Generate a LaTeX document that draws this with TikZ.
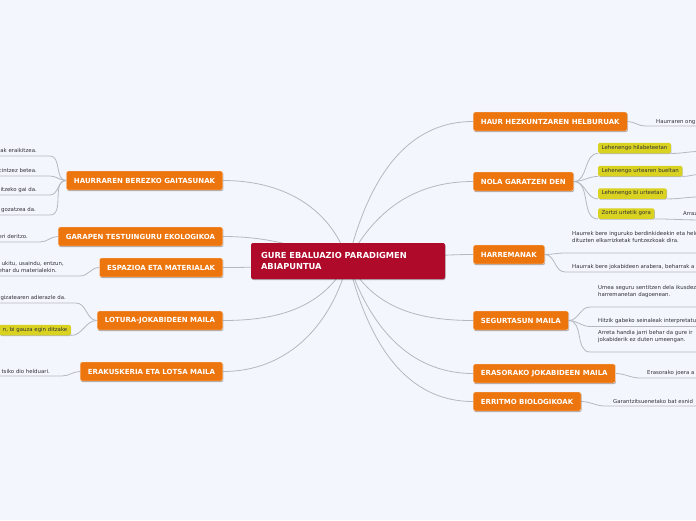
\documentclass[tikz,border=0pt]{standalone}
\usepackage{fontspec}
\setmainfont{DejaVu Sans}
\usetikzlibrary{shadows,calc}
\definecolor{bgc}{RGB}{243,246,253}
\definecolor{orc}{RGB}{236,117,14}
\definecolor{crc}{RGB}{176,10,43}
\definecolor{yelc}{RGB}{218,210,32}
\definecolor{lnc}{RGB}{182,184,192}
\definecolor{txc}{RGB}{50,50,55}
\pgfdeclarelayer{bglayer}
\pgfdeclarelayer{edges}
\pgfsetlayers{bglayer,edges,main}
\begin{document}
\begin{tikzpicture}[x=1pt,y=-1pt,
  topic/.style={fill=orc, text=white, font=\bfseries\fontsize{7}{8}\selectfont,
    rounded corners=2pt, minimum height=19pt, inner xsep=7.7pt, inner ysep=0pt,
    draw=white!85!orc, line width=0.4pt,
    drop shadow={shadow xshift=0.6pt, shadow yshift=-1pt, opacity=0.3, fill=black}},
  central/.style={fill=crc, text=white, font=\bfseries\fontsize{8.3}{11}\selectfont,
    rounded corners=2pt, minimum width=194pt, minimum height=36pt, text width=174pt,
    align=left, inner sep=0pt,
    drop shadow={shadow xshift=0.6pt, shadow yshift=-1pt, opacity=0.3, fill=black}},
  yel/.style={fill=yelc, text=txc, font=\fontsize{5.4}{6}\selectfont,
    rounded corners=1.5pt, minimum height=10.5pt, inner xsep=3.5pt, inner ysep=0pt,
    drop shadow={shadow xshift=0.4pt, shadow yshift=-0.8pt, opacity=0.25, fill=black}},
  txt/.style={font=\fontsize{5.4}{6.6}\selectfont, text=txc, inner sep=0pt, align=left},
  conn/.style={draw=lnc, line width=0.8pt},
]
\begin{pgfonlayer}{bglayer}
\fill[bgc] (0,0) rectangle (696,520);
\end{pgfonlayer}
\useasboundingbox (0,0) rectangle (696,520);

% central
\node[central] (c) at (348,261) {GURE EBALUAZIO PARADIGMEN\\ABIAPUNTUA};

% right topics
\node[topic, anchor=west] (haur) at (473,121.5) {HAUR HEZKUNTZAREN HELBURUAK};
\node[topic, anchor=west] (nola) at (473,181.5) {NOLA GARATZEN DEN};
\node[topic, anchor=west] (harr) at (473,254.5) {HARREMANAK};
\node[topic, anchor=west] (segu) at (473,320.5) {SEGURTASUN MAILA};
\node[topic, anchor=west] (eras) at (473,373.5) {ERASORAKO JOKABIDEEN MAILA};
\node[topic, anchor=west] (errit) at (473,401.5) {ERRITMO BIOLOGIKOAK};
% left topics
\node[topic, anchor=east] (gait) at (223,180.5) {HAURRAREN BEREZKO GAITASUNAK};
\node[topic, anchor=east] (gara) at (223,236.5) {GARAPEN TESTUINGURU EKOLOGIKOA};
\node[topic, anchor=east] (espa) at (223,267.5) {ESPAZIOA ETA MATERIALAK};
\node[topic, anchor=east] (lotu) at (223,320.5) {LOTURA-JOKABIDEEN MAILA};
\node[topic, anchor=east] (erak) at (223,371.5) {ERAKUSKERIA ETA LOTSA MAILA};

% left texts
\node[txt, anchor=base east] (g1) at (37,152) {ak eraikitzea.};
\node[txt, anchor=base east] (g2) at (37,172) {cintzez betea.};
\node[txt, anchor=base east] (g3) at (37,191) {itzeko gai da.};
\node[txt, anchor=base east] (g4) at (36,211) {gozatzea da.};
\node[txt, anchor=base east] (ga1) at (28,238) {eri deritzo.};
\node[txt, anchor=base east] (es1) at (64,265) {ukitu, usaindu, entzun,};
\node[txt, anchor=base east] (es2) at (57,272) {ehar du materialekin.};
\node[txt, anchor=base east] (lo1) at (66,299) {gizatearen adierazle da.};
\node[yel, anchor=east] (lo2) at (71,330) {n, bi gauza egin ditzake};
\node[txt, anchor=base east] (er1) at (50,373) {tsiko dio helduari.};
\coordinate (g1u) at (50,156);
\coordinate (g2u) at (50,176);
\coordinate (g3u) at (50,195);
\coordinate (g4u) at (50,215);
\coordinate (ga1u) at (40,242);
\coordinate (es1u) at (80,276);
\coordinate (lo1u) at (76,303);
\coordinate (er1u) at (62,376);
\coordinate (L0) at (0,0);

% right texts
\node[txt, anchor=base west] (h1) at (656,123) {Haurraren ong};
\node[yel, anchor=west] (y1) at (598,148) {Lehenengo hilabeteetan};
\node[yel, anchor=west] (y2) at (598,171) {Lehenengo urtearen bueltan};
\node[yel, anchor=west] (y3) at (598,193.5) {Lehenengo bi urteetan};
\node[yel, anchor=west] (y4) at (598,213.5) {Zortzi urtetik gora};
\node[txt, anchor=base west] (y4t) at (683,215.5) {Arraz};
\node[txt, anchor=base west] (r1) at (572,242) {Haurrek bere inguruko berdinkideekin eta helduekin\\dituzten elkarrizketak funtzezkoak dira.};
\node[txt, anchor=base west] (r2) at (572,268) {Haurrak bere jokabideen arabera, beharrak a};
\node[txt, anchor=base west] (s1) at (598,296) {Umea seguru sentitzen dela ikusdez\\harremanetan dagoenean.};
\node[txt, anchor=base west] (s2) at (598,322.5) {Hitzik gabeko seinaleak interpretatu};
\node[txt, anchor=base west] (s3) at (598,341) {Arreta handia jarri behar da gure ir\\jokabiderik ez duten umeengan.};
\node[txt, anchor=base west] (e1) at (647,374.5) {Erasorako joera a};
\node[txt, anchor=base west] (b1) at (613,403) {Garantzitsuenetako bat esnid};
\coordinate (h1u) at (645,126);
\coordinate (r1u) at (565,253);
\coordinate (r2u) at (565,272);
\coordinate (s1u) at (590,307);
\coordinate (s2u) at (590,326.5);
\coordinate (s3u) at (590,352);
\coordinate (e1u) at (640,378);
\coordinate (b1u) at (605,406);

\begin{pgfonlayer}{edges}
\begin{scope}[conn]
% central connectors
\draw (c.center) to[out=76,in=180] (haur.west);
\draw (c.center) to[out=62,in=180] (nola.west);
\draw (c.center) to[out=0,in=180] (harr.west);
\draw (c.center) to[out=-62,in=180] (segu.west);
\draw (c.center) to[out=-72,in=180] (eras.west);
\draw (c.center) to[out=-76,in=180] (errit.west);
\draw (c.center) to[out=108,in=0] (gait.east);
\draw (c.center) to[out=165,in=0] (gara.east);
\draw (c.center) to[out=185,in=0] (espa.east);
\draw (c.center) to[out=-118,in=0] (lotu.east);
\draw (c.center) to[out=-104,in=0] (erak.east);
% left children
\foreach \u in {g1u,g2u,g3u,g4u}
  \draw (gait.west) to[out=180,in=0] (\u) -- (\u -| L0);
\draw (gara.west) to[out=180,in=0] (ga1u) -- (ga1u -| L0);
\draw (espa.west) to[out=180,in=0] (es1u) -- (es1u -| L0);
\draw (lotu.west) to[out=180,in=0] (lo1u) -- (lo1u -| L0);
\draw (lotu.west) to[out=180,in=0] (lo2.south east);
\draw (erak.west) to[out=180,in=0] (er1u) -- (er1u -| L0);
% right children
\coordinate (R0) at (700,0);
\draw (haur.east) to[out=0,in=180] (h1u) -- (h1u -| R0);
\foreach \y in {y1,y2,y3,y4}
  \draw (nola.east) to[out=0,in=180] (\y.south west);
\draw (y1.south east) to[out=0,in=180] ($(y1.south east -| R0)+(0,-2)$);
\draw (y2.south east) to[out=0,in=180] ($(y2.south east -| R0)+(0,-2)$);
\draw (y3.south east) to[out=0,in=180] ($(y3.south east -| R0)+(0,-2)$);
\draw (y4.south east) to[out=0,in=180] ($(y4.south east -| R0)+(0,1)$);
\draw (harr.east) to[out=0,in=180] (r1u) -- (r1u -| R0);
\draw (harr.east) to[out=0,in=180] (r2u) -- (r2u -| R0);
\draw (segu.east) to[out=0,in=180] (s1u) -- (s1u -| R0);
\draw (segu.east) to[out=0,in=180] (s2u) -- (s2u -| R0);
\draw (segu.east) to[out=0,in=180] (s3u) -- (s3u -| R0);
\draw (eras.east) to[out=0,in=180] (e1u) -- (e1u -| R0);
\draw (errit.east) to[out=0,in=180] (b1u) -- (b1u -| R0);
\end{scope}
\end{pgfonlayer}
\end{tikzpicture}
\end{document}
